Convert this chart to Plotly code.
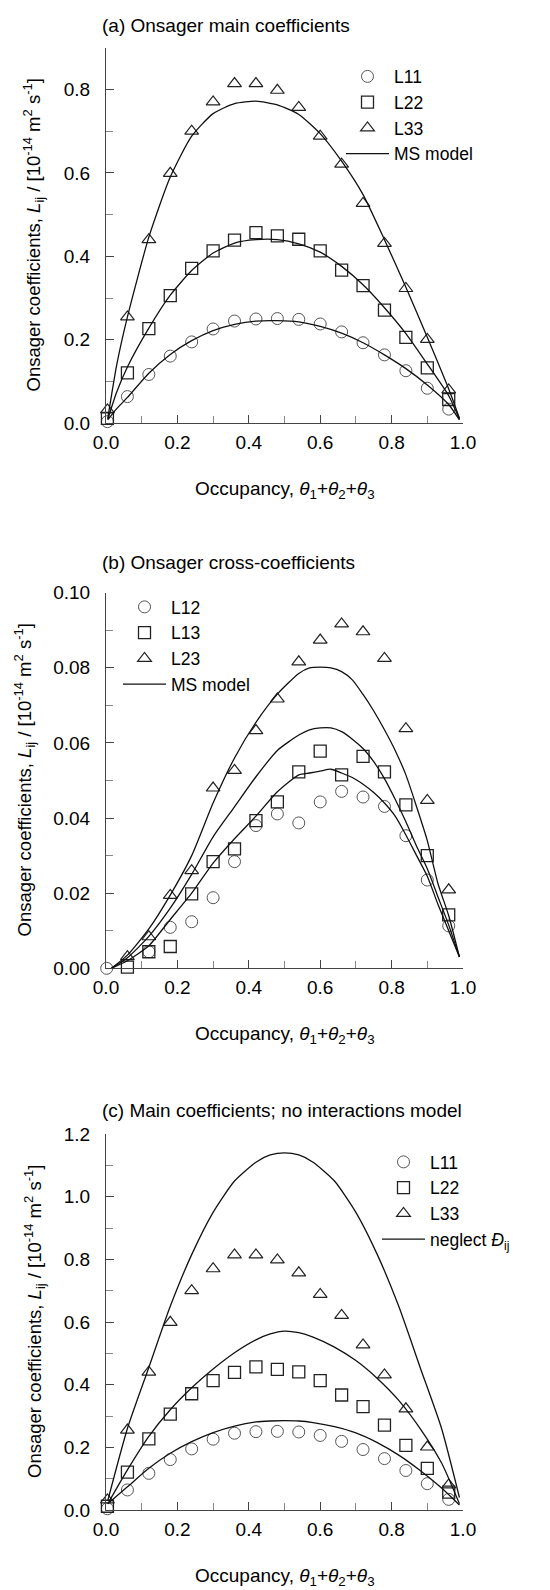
import plotly.graph_objects as go

# page is 550x1590; the html body has an 8px margin, so the figure is 542x1582
OFF = 8
FW, FH = 550 - OFF, 1590 - OFF
FONT = "Liberation Sans, Arial, Helvetica, sans-serif"

# ---------------- data ----------------
theta = [0.004, 0.06, 0.12, 0.18, 0.24, 0.30, 0.36, 0.42, 0.48, 0.54,
         0.60, 0.66, 0.72, 0.78, 0.84, 0.90, 0.96]
L11 = [0.004, 0.064, 0.117, 0.161, 0.195, 0.226, 0.245, 0.250, 0.251, 0.249,
       0.238, 0.219, 0.193, 0.164, 0.126, 0.084, 0.034]
L22 = [0.012, 0.121, 0.227, 0.306, 0.371, 0.413, 0.439, 0.457, 0.449, 0.441,
       0.413, 0.367, 0.330, 0.271, 0.206, 0.133, 0.057]
L33 = [0.032, 0.255, 0.440, 0.599, 0.700, 0.770, 0.814, 0.814, 0.798, 0.757,
       0.688, 0.621, 0.527, 0.431, 0.323, 0.201, 0.080]

theta_ms_a = [0.005, 0.03, 0.06, 0.12, 0.18, 0.24, 0.30, 0.36, 0.42, 0.48,
              0.54, 0.60, 0.66, 0.72, 0.78, 0.84, 0.90, 0.96, 0.99]
MS11 = [0.008, 0.035, 0.062, 0.120, 0.165, 0.198, 0.222, 0.237, 0.245, 0.246,
        0.243, 0.232, 0.216, 0.193, 0.164, 0.131, 0.092, 0.045, 0.008]
MS22 = [0.010, 0.075, 0.135, 0.228, 0.307, 0.366, 0.408, 0.432, 0.440, 0.440,
        0.430, 0.410, 0.376, 0.332, 0.277, 0.215, 0.142, 0.066, 0.010]
MS33 = [0.012, 0.140, 0.255, 0.446, 0.590, 0.688, 0.742, 0.766, 0.772, 0.763,
        0.740, 0.694, 0.628, 0.548, 0.440, 0.326, 0.206, 0.082, 0.012]

theta_x12 = [0.002, 0.12, 0.18, 0.24, 0.30, 0.36, 0.42, 0.48, 0.54, 0.60,
             0.66, 0.72, 0.78, 0.84, 0.90, 0.96]
L12 = [0.0, 0.0044, 0.0109, 0.0124, 0.0188, 0.0284, 0.0380, 0.0411, 0.0387, 0.0443,
       0.0471, 0.0456, 0.0431, 0.0353, 0.0235, 0.0113]
theta_x = [0.06, 0.12, 0.18, 0.24, 0.30, 0.36, 0.42, 0.48, 0.54, 0.60,
           0.66, 0.72, 0.78, 0.84, 0.90, 0.96]
L13 = [0.0003, 0.0044, 0.0058, 0.0198, 0.0284, 0.0318, 0.0393, 0.0443, 0.0523, 0.0578,
       0.0515, 0.0564, 0.0523, 0.0435, 0.0300, 0.0142]
L23 = [0.0031, 0.0084, 0.0194, 0.0260, 0.0480, 0.0527, 0.0633, 0.0717, 0.0816, 0.0874,
       0.0917, 0.0896, 0.0825, 0.0638, 0.0447, 0.0209]

theta_ms_b = [0.015, 0.06, 0.12, 0.18, 0.24, 0.30, 0.36, 0.42, 0.48, 0.54,
              0.57, 0.60, 0.63, 0.66, 0.69, 0.72, 0.75, 0.78, 0.81, 0.84,
              0.87, 0.90, 0.93, 0.96, 0.99]
MS12 = [0.0, 0.0020, 0.0060, 0.0130, 0.0200, 0.0280, 0.0345, 0.0405, 0.0470, 0.0515,
        0.0520, 0.0525, 0.0530, 0.0520, 0.0508, 0.0490, 0.0468, 0.0440, 0.0405, 0.0355,
        0.0300, 0.0245, 0.0170, 0.0100, 0.0030]
MS13 = [0.0, 0.0028, 0.0085, 0.0160, 0.0250, 0.0350, 0.0430, 0.0510, 0.0580, 0.0621,
        0.0635, 0.0640, 0.0640, 0.0630, 0.0610, 0.0585, 0.0550, 0.0505, 0.0450, 0.0390,
        0.0325, 0.0265, 0.0190, 0.0115, 0.0030]
MS23 = [0.0, 0.0035, 0.0105, 0.0195, 0.0300, 0.0440, 0.0560, 0.0655, 0.0730, 0.0785,
        0.0800, 0.0802, 0.0800, 0.0790, 0.0768, 0.0729, 0.0685, 0.0635, 0.0580, 0.0515,
        0.0430, 0.0340, 0.0225, 0.0140, 0.0030]

theta_nd = [0.005, 0.06, 0.12, 0.18, 0.24, 0.30, 0.36, 0.42, 0.46, 0.50,
            0.54, 0.58, 0.64, 0.70, 0.76, 0.82, 0.88, 0.94, 0.99]
ND11 = [0.020, 0.074, 0.133, 0.181, 0.218, 0.247, 0.268, 0.281, 0.284, 0.285,
        0.284, 0.279, 0.266, 0.246, 0.215, 0.175, 0.126, 0.070, 0.016]
ND22 = [0.020, 0.128, 0.235, 0.320, 0.390, 0.450, 0.502, 0.543, 0.562, 0.571,
        0.566, 0.552, 0.520, 0.477, 0.420, 0.350, 0.260, 0.150, 0.020]
ND33 = [0.030, 0.260, 0.455, 0.650, 0.815, 0.950, 1.050, 1.110, 1.133, 1.140,
        1.133, 1.110, 1.050, 0.950, 0.815, 0.650, 0.455, 0.260, 0.040]

# ---------------- layout geometry (page pixels) ----------------
X0, X1 = 106, 463
panels = [
    dict(ytop=47.7, ybot=423.3, rng=[0, 0.9], dtick=0.2, minor=0.1, fmt=".1f"),
    dict(ytop=592.7, ybot=968.3, rng=[0, 0.10], dtick=0.02, minor=0.01, fmt=".2f"),
    dict(ytop=1134.0, ybot=1510.0, rng=[0, 1.2], dtick=0.2, minor=0.1, fmt=".1f"),
]


def fx(p):
    return (p - OFF) / FW


def fy(p):
    return 1 - (p - OFF) / FH


AXC = "#444444"
fig = go.Figure()

mk = dict(
    circle=dict(symbol="circle-open", size=12, color="#555555", line=dict(width=1, color="#555555")),
    square=dict(symbol="square-open", size=12, color="#222222", line=dict(width=1.3, color="#222222")),
    triangle=dict(symbol="triangle-up-open", size=12, color="#222222", line=dict(width=1.2, color="#222222")),
)
LINE = dict(color="#111111", width=1.3, shape="spline", smoothing=0.6)


def axn(k):
    return "" if k == 1 else str(k)


def add_points(x, y, name, sym, k, leg):
    fig.add_trace(go.Scatter(x=x, y=y, mode="markers", name=name, marker=mk[sym],
                             xaxis="x" + axn(k), yaxis="y" + axn(k),
                             legend=leg, legendgroup=name + str(k), cliponaxis=False))


def add_line(x, y, name, k, leg, show):
    fig.add_trace(go.Scatter(x=x, y=y, mode="lines", name=name, line=LINE,
                             xaxis="x" + axn(k), yaxis="y" + axn(k),
                             legend=leg, showlegend=show, legendgroup="model" + str(k),
                             cliponaxis=False))


# panel (a)
add_points(theta, L11, "L11", "circle", 1, "legend")
add_points(theta, L22, "L22", "square", 1, "legend")
add_points(theta, L33, "L33", "triangle", 1, "legend")
add_line(theta_ms_a, MS11, "MS model", 1, "legend", True)
add_line(theta_ms_a, MS22, "MS model", 1, "legend", False)
add_line(theta_ms_a, MS33, "MS model", 1, "legend", False)

# panel (b)
add_points(theta_x12, L12, "L12", "circle", 2, "legend2")
add_points(theta_x, L13, "L13", "square", 2, "legend2")
add_points(theta_x, L23, "L23", "triangle", 2, "legend2")
add_line(theta_ms_b, MS12, "MS model", 2, "legend2", True)
add_line(theta_ms_b, MS13, "MS model", 2, "legend2", False)
add_line(theta_ms_b, MS23, "MS model", 2, "legend2", False)

# panel (c)
add_points(theta, L11, "L11", "circle", 3, "legend3")
add_points(theta, L22, "L22", "square", 3, "legend3")
add_points(theta, L33, "L33", "triangle", 3, "legend3")
add_line(theta_nd, ND11, "neglect <i>Đ</i><sub>ij</sub>", 3, "legend3", True)
add_line(theta_nd, ND22, "neglect", 3, "legend3", False)
add_line(theta_nd, ND33, "neglect", 3, "legend3", False)

layout = dict(
    width=FW, height=FH,
    margin=dict(l=0, r=0, t=0, b=0, autoexpand=False),
    paper_bgcolor="white", plot_bgcolor="white",
    font=dict(family=FONT, size=19, color="black"),
    showlegend=True,
)

for i, p in enumerate(panels, start=1):
    sfx = axn(i)
    layout["xaxis" + sfx] = dict(
        domain=[fx(X0), fx(X1)], range=[0, 1.0], anchor="y" + sfx,
        showline=True, linecolor=AXC, linewidth=1, ticks="inside", ticklen=8,
        tickcolor=AXC, tickwidth=1, dtick=0.2, tick0=0, tickformat=".1f",
        showgrid=False, zeroline=False, ticklabelstandoff=2,
        tickfont=dict(size=19, family=FONT, color="black"),
        minor=dict(ticks="inside", ticklen=7, tickcolor="#888888", dtick=0.1, showgrid=False),
    )
    layout["yaxis" + sfx] = dict(
        domain=[fy(p["ybot"]), fy(p["ytop"])], range=p["rng"], anchor="x" + sfx,
        showline=True, linecolor=AXC, linewidth=1, ticks="inside", ticklen=8,
        tickcolor=AXC, tickwidth=1, dtick=p["dtick"], tick0=0, tickformat=p["fmt"],
        showgrid=False, zeroline=False, ticklabelstandoff=11,
        tickfont=dict(size=19, family=FONT, color="black"),
        minor=dict(ticks="inside", ticklen=7, tickcolor="#888888", dtick=p["minor"], showgrid=False),
    )

leg_common = dict(xanchor="left", yanchor="top", bgcolor="rgba(0,0,0,0)", borderwidth=0,
                  font=dict(size=17.5, family=FONT, color="black"), itemwidth=43,
                  tracegroupgap=0, traceorder="normal")
layout["legend"] = dict(leg_common, x=fx(341), y=fy(58.5))
layout["legend2"] = dict(leg_common, x=fx(118), y=fy(589))
layout["legend3"] = dict(leg_common, x=fx(377), y=fy(1144))

ytitle = "Onsager coefficients, <i>L</i><sub>ij</sub> / [10<sup>-14</sup> m<sup>2</sup> s<sup>-1</sup>]"
xtitle = "Occupancy, <i>θ</i><sub>1</sub>+<i>θ</i><sub>2</sub>+<i>θ</i><sub>3</sub>"
titles = ["(a) Onsager main coefficients", "(b) Onsager cross-coefficients",
          "(c) Main coefficients; no interactions model"]
title_y = [25, 562, 1110]
ytitle_x = [34, 25, 34]

ann = []
for i, p in enumerate(panels):
    ann.append(dict(text=titles[i], xref="paper", yref="paper", x=fx(100), y=fy(title_y[i]),
                    xanchor="left", yanchor="middle", showarrow=False,
                    font=dict(size=19, family=FONT, color="black")))
    ann.append(dict(text=xtitle, xref="paper", yref="paper", x=fx((X0 + X1) / 2),
                    y=fy(p["ybot"] + 67), xanchor="center", yanchor="middle", showarrow=False,
                    font=dict(size=19, family=FONT, color="black")))
    ann.append(dict(text=ytitle, xref="paper", yref="paper", x=fx(ytitle_x[i]),
                    y=fy((p["ytop"] + p["ybot"]) / 2), xanchor="center", yanchor="middle",
                    textangle=-90, showarrow=False,
                    font=dict(size=18.5, family=FONT, color="black")))
layout["annotations"] = ann

fig.update_layout(**layout)
fig.write_html("out.html")
